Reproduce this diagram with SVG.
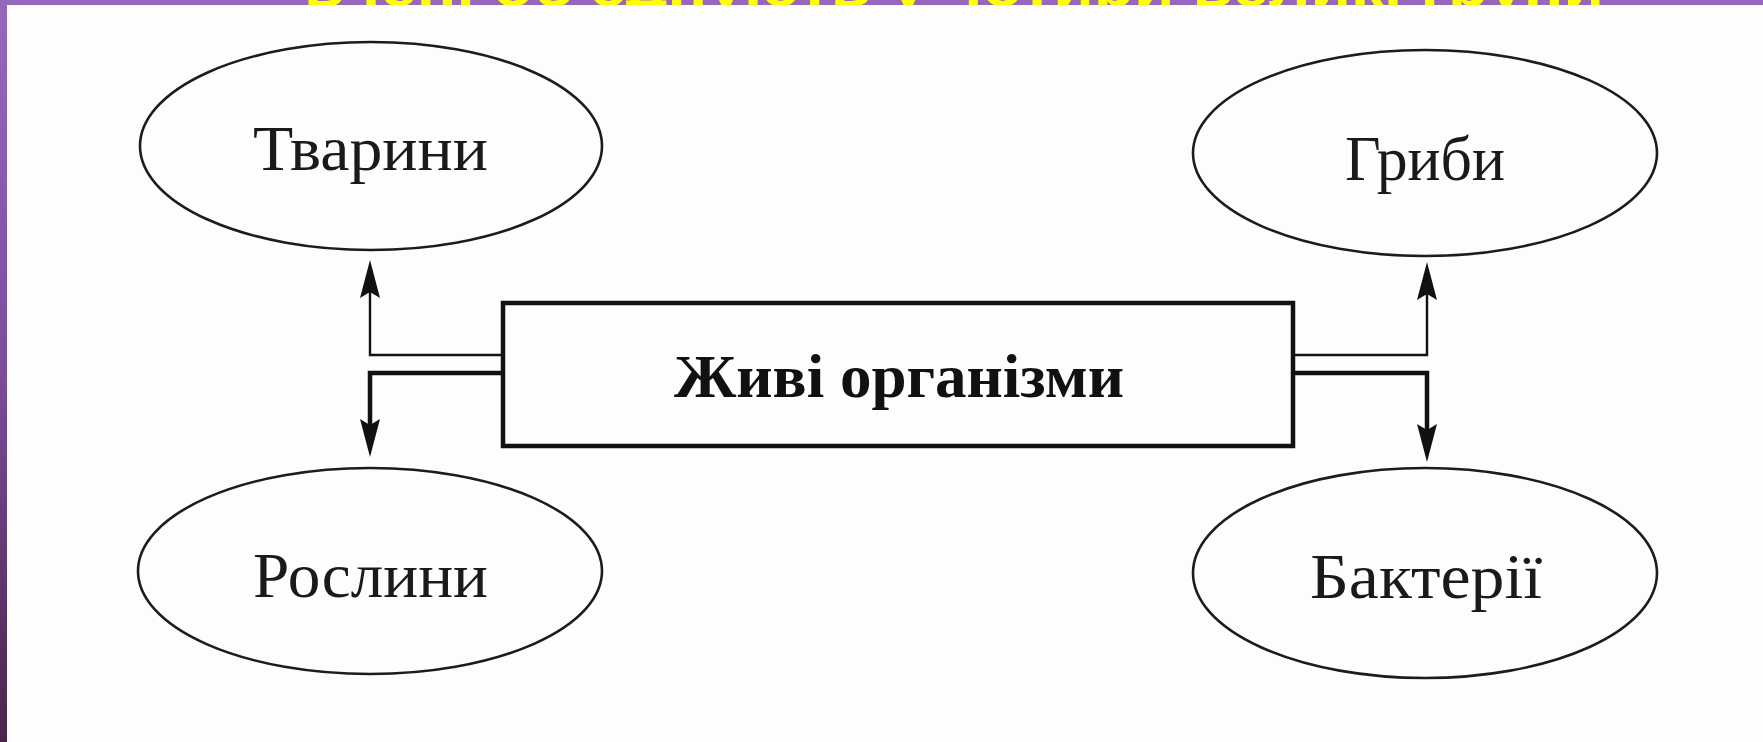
<svg xmlns="http://www.w3.org/2000/svg" width="1763" height="742" viewBox="0 0 1763 742">
  <style>
    .ell { fill: none; stroke: #1c1c1c; stroke-width: 2.6; }
    .lbl { font-family: "Liberation Serif", "DejaVu Serif", serif; font-size: 64px; fill: #1a1a1a; }
    .main { font-family: "Liberation Serif", "DejaVu Serif", serif; font-size: 62px; font-weight: bold; fill: #111; }
    .thin { fill: none; stroke: #111; stroke-width: 2.4; }
    .thick { fill: none; stroke: #111; stroke-width: 4.5; }
  </style>
  <defs>
    <linearGradient id="bg" x1="0" y1="0" x2="0" y2="1">
      <stop offset="0" stop-color="#9668bd"/>
      <stop offset="0.5" stop-color="#7c4c9c"/>
      <stop offset="1" stop-color="#4a2448"/>
    </linearGradient>
    <marker id="arr" markerUnits="userSpaceOnUse" markerWidth="60" markerHeight="40" viewBox="-40 -20 60 40" refX="0" refY="0" orient="auto" overflow="visible">
      <path d="M12,0 L-26,-10 L-20,0 L-26,10 Z" fill="#111"/>
    </marker>
  </defs>

  <rect x="0" y="0" width="1763" height="742" fill="url(#bg)"/>
  <text x="304" y="6" font-family="'Liberation Sans', Arial, sans-serif" font-size="60" font-weight="bold" fill="#ffff00" textLength="1300" lengthAdjust="spacingAndGlyphs">вчені об'єднують у чотири великі групи</text>
  <rect x="7" y="5" width="1756" height="737" fill="#fdfdfd"/>

  <g id="connectors">
    <polyline class="thin" points="503,355 370,355 370,272" marker-end="url(#arr)"/>
    <polyline class="thick" points="503,373 370,373 370,445" marker-end="url(#arr)"/>
    <polyline class="thin" points="1293,355 1427,355 1427,274" marker-end="url(#arr)"/>
    <polyline class="thick" points="1293,373 1427,373 1427,450" marker-end="url(#arr)"/>
  </g>

  <g id="node-center">
    <rect x="503" y="303" width="790" height="143" fill="none" stroke="#111" stroke-width="4.5"/>
    <text class="main" x="674" y="397" textLength="450" lengthAdjust="spacingAndGlyphs">Живі організми</text>
  </g>

  <g id="node-tvaryny">
    <ellipse class="ell" cx="371" cy="146" rx="231" ry="104"/>
    <text class="lbl" x="253" y="170" textLength="235" lengthAdjust="spacingAndGlyphs">Тварини</text>
  </g>

  <g id="node-roslyny">
    <ellipse class="ell" cx="370" cy="571" rx="232" ry="103"/>
    <text class="lbl" x="253" y="597" textLength="235" lengthAdjust="spacingAndGlyphs">Рослини</text>
  </g>

  <g id="node-hryby">
    <ellipse class="ell" cx="1425" cy="153" rx="232" ry="103"/>
    <text class="lbl" x="1345" y="180" textLength="160" lengthAdjust="spacingAndGlyphs">Гриби</text>
  </g>

  <g id="node-bakterii">
    <ellipse class="ell" cx="1425" cy="573" rx="232" ry="105"/>
    <text class="lbl" x="1310" y="598" textLength="232" lengthAdjust="spacingAndGlyphs">Бактерії</text>
  </g>
</svg>
